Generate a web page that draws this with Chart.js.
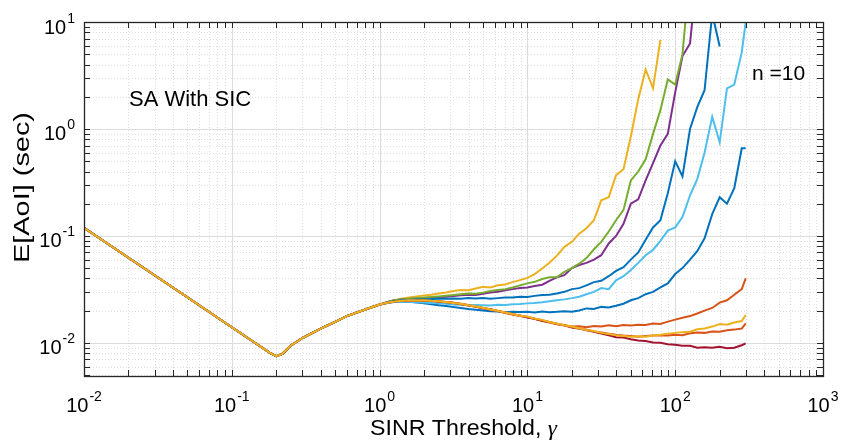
<!DOCTYPE html>
<html>
<head>
<meta charset="utf-8">
<script src="https://cdn.jsdelivr.net/npm/chart.js@4.4.1/dist/chart.umd.min.js"></script>
<style>
  html, body { margin: 0; padding: 0; background: #fff; }
</style>
</head>
<body>
<canvas id="aoiChart" width="842" height="447"></canvas>
<script>
// SINR threshold below 1: every curve is the same here
const gammaLow = [0.01, 0.02, 0.05, 0.1, 0.15, 0.18, 0.2, 0.22, 0.25, 0.3, 0.4, 0.5, 0.6, 0.8];
const aoiLow = [0.119, 0.0625, 0.0267, 0.0140, 0.0096, 0.0081, 0.0075, 0.0079, 0.0094, 0.0111, 0.0136, 0.0157, 0.0178, 0.0205];

// SINR threshold from 1 to 300
const gamma = [1.00, 1.12, 1.26, 1.41, 1.58, 1.78, 2.00, 2.24, 2.51, 2.82,
  3.16, 3.55, 3.98, 4.47, 5.01, 5.62, 6.31, 7.08, 7.94, 8.91,
  10.0, 11.2, 12.6, 14.1, 15.8, 17.8, 20.0, 22.4, 25.1, 28.2,
  31.6, 35.5, 39.8, 44.7, 50.1, 56.2, 63.1, 70.8, 79.4, 89.1,
  100, 112, 126, 141, 158, 178, 200, 224, 251, 282, 300];

// E[AoI] for each curve (MATLAB colour order)
const aoiBlueLow = [.0228, .0236, .0242, .0244, .0242, .0238, .0234, .0229, .0225, .0221,
  .0216, .0212, .0207, .0204, .0201, .0198, .0196, .0193, .0195, .0194,
  .0195, .0192, .0196, .0193, .0195, .0198, .0195, .0201, .0210, .0207,
  .0217, .0214, .0222, .0232, .0250, .0262, .0285, .0300, .0330, .0360,
  .0440, .0500, .0600, .0720, .0950, .1600, .2300, .2000, .2800, .6600, .6600];
const aoiOrangeHigh = [.0228, .0236, .0243, .0247, .0249, .0250, .0249, .0247, .0244, .0241,
  .0237, .0232, .0226, .0219, .0212, .0206, .0199, .0192, .0185, .0180,
  .0174, .0168, .0160, .0155, .0150, .0146, .0142, .0143, .0140, .0144,
  .0142, .0146, .0143, .0147, .0145, .0148, .0147, .0152, .0150, .0158,
  .0165, .0172, .0178, .0188, .0200, .0212, .0238, .0250, .0282, .0318, .0400];
const aoiYellowHigh = [.0228, .0240, .0250, .0258, .0265, .0272, .0278, .0282, .0290, .0296,
  .0305, .0312, .0310, .0322, .0334, .0330, .0345, .0352, .0370, .0386,
  .0405, .0440, .0495, .0560, .0650, .0790, .0880, .1050, .1180, .1400,
  .2150, .2300, .3700, .4200, .8500, 1.90, 3.60, 2.40, 6.80];
const aoiPurple = [.0228, .0240, .0250, .0255, .0257, .0260, .0262, .0265, .0268, .0270,
  .0274, .0278, .0282, .0280, .0288, .0296, .0300, .0310, .0318, .0325,
  .0330, .0340, .0350, .0380, .0410, .0430, .0500, .0535, .0560, .0600,
  .0660, .0850, .1000, .1300, .2000, .2200, .3300, .4800, .7000, .9000,
  2.20, 4.80, 6.30, 30];
const aoiGreen = [.0228, .0240, .0250, .0255, .0258, .0262, .0265, .0268, .0272, .0276,
  .0280, .0285, .0290, .0288, .0295, .0305, .0312, .0318, .0330, .0345,
  .0360, .0372, .0395, .0410, .0410, .0460, .0500, .0550, .0620, .0750,
  .0880, .1100, .1400, .1750, .3300, .4000, .5200, .9000, 1.50, 2.90,
  2.60, 5.00, 30];
const aoiLightBlue = [.0228, .0236, .0241, .0243, .0242, .0240, .0238, .0236, .0234, .0232,
  .0229, .0227, .0225, .0226, .0225, .0223, .0227, .0226, .0230, .0231,
  .0234, .0236, .0240, .0245, .0250, .0255, .0262, .0270, .0285, .0300,
  .0325, .0318, .0385, .0420, .0480, .0560, .0660, .0740, .0900, .1120,
  .1200, .1500, .2400, .3400, .6000, 1.30, .7500, 2.40, 2.60, 5.20, 10.0];
const aoiDarkRed = [.0228, .0237, .0243, .0247, .0249, .0250, .0248, .0247, .0243, .0241,
  .0236, .0231, .0224, .0219, .0211, .0206, .0198, .0191, .0185, .0179,
  .0173, .0168, .0161, .0157, .0150, .0146, .0139, .0136, .0131, .0127,
  .0122, .0118, .0113, .0112, .0108, .0105, .0104, .0101, .0100, .0097,
  .0096, .0094, .0094, .0090, .0091, .0090, .0092, .0089, .0090, .0095, .0099];
const aoiBlueHigh = [.0228, .0238, .0245, .0250, .0252, .0254, .0255, .0257, .0258, .0259,
  .0260, .0258, .0262, .0260, .0262, .0258, .0262, .0265, .0266, .0270,
  .0268, .0275, .0280, .0282, .0290, .0300, .0318, .0325, .0345, .0370,
  .0380, .0420, .0470, .0510, .0600, .0700, .0920, .1200, .1400, .2500,
  .5000, .3600, 1.00, 1.60, 2.30, 12.0, 5.90];
const aoiOrangeLow = [.0228, .0236, .0244, .0246, .0248, .0249, .0249, .0246, .0244, .0240,
  .0237, .0230, .0225, .0218, .0212, .0204, .0199, .0190, .0184, .0178,
  .0175, .0168, .0163, .0156, .0151, .0145, .0141, .0136, .0133, .0128,
  .0125, .0122, .0119, .0117, .0116, .0114, .0116, .0117, .0118, .0117,
  .0119, .0118, .0123, .0125, .0124, .0128, .0127, .0131, .0133, .0136, .0152];
const aoiYellowLow = [.0228, .0237, .0243, .0247, .0250, .0249, .0250, .0247, .0245, .0241,
  .0236, .0232, .0225, .0220, .0213, .0205, .0200, .0192, .0186, .0179,
  .0176, .0169, .0164, .0157, .0152, .0146, .0142, .0137, .0132, .0129,
  .0124, .0121, .0118, .0116, .0114, .0115, .0114, .0117, .0119, .0122,
  .0124, .0126, .0127, .0134, .0136, .0142, .0150, .0148, .0155, .0160, .0182];

const xTickExp = [-2, -1, 0, 1, 2, 3];
const yTickExp = [-2, -1, 0, 1];

const FONT = '"Liberation Sans", Arial, Helvetica, sans-serif';

function series(vals) {
  const low = gammaLow.map((g, i) => ({ x: g, y: aoiLow[i] }));
  return low.concat(vals.map((v, i) => ({ x: gamma[i], y: v })));
}

const curves = [
  { data: aoiBlueLow, color: '#0072BD' },
  { data: aoiOrangeHigh, color: '#D95319' },
  { data: aoiYellowHigh, color: '#EDB120' },
  { data: aoiPurple, color: '#7E2F8E' },
  { data: aoiGreen, color: '#77AC30' },
  { data: aoiLightBlue, color: '#4DBEEE' },
  { data: aoiDarkRed, color: '#A2142F' },
  { data: aoiBlueHigh, color: '#0072BD' },
  { data: aoiOrangeLow, color: '#D95319' },
  { data: aoiYellowLow, color: '#EDB120' }
];

// minor tick values 2..9 per decade inside the axis range
function minorTicks(min, max) {
  const out = [];
  for (let e = Math.floor(Math.log10(min)); e < Math.ceil(Math.log10(max)); e++) {
    for (let m = 2; m <= 9; m++) {
      const v = m * Math.pow(10, e);
      if (v > min && v < max) out.push(v);
    }
  }
  return out;
}

function drawPow(ctx, exp, x, y, mode) {
  // "10" with a raised exponent; mode 'center' for x axis, 'right' for y axis
  ctx.font = '20px ' + FONT;
  const wBase = ctx.measureText('10').width;
  ctx.font = '14px ' + FONT;
  const expText = String(exp);
  const wExp = ctx.measureText(expText).width;
  const total = wBase + 1 + wExp;
  const left = mode === 'center' ? x - total / 2 : x - total;
  ctx.textAlign = 'left';
  ctx.textBaseline = 'alphabetic';
  ctx.font = '20px ' + FONT;
  ctx.fillText('10', left, y);
  ctx.font = '14px ' + FONT;
  ctx.fillText(expText, left + wBase + 1, y - 11);
}

const matlabAxes = {
  id: 'matlabAxes',
  beforeDatasetsDraw(chart) {
    const { ctx, chartArea: a, scales: { x, y } } = chart;
    ctx.save();
    ctx.lineWidth = 1;
    ctx.strokeStyle = '#dedede';
    ctx.setLineDash([1, 2]);
    minorTicks(x.min, x.max).forEach(v => {
      const p = Math.round(x.getPixelForValue(v)) + 0.5;
      ctx.beginPath(); ctx.moveTo(p, a.top); ctx.lineTo(p, a.bottom); ctx.stroke();
    });
    minorTicks(y.min, y.max).forEach(v => {
      const p = Math.round(y.getPixelForValue(v)) + 0.5;
      ctx.beginPath(); ctx.moveTo(a.left, p); ctx.lineTo(a.right, p); ctx.stroke();
    });
    ctx.setLineDash([]);
    ctx.strokeStyle = '#dcdcdc';
    xTickExp.forEach(e => {
      const p = Math.round(x.getPixelForValue(Math.pow(10, e))) + 0.5;
      ctx.beginPath(); ctx.moveTo(p, a.top); ctx.lineTo(p, a.bottom); ctx.stroke();
    });
    yTickExp.forEach(e => {
      const p = Math.round(y.getPixelForValue(Math.pow(10, e))) + 0.5;
      ctx.beginPath(); ctx.moveTo(a.left, p); ctx.lineTo(a.right, p); ctx.stroke();
    });
    ctx.restore();
  },
  afterDatasetsDraw(chart) {
    const { ctx, chartArea: a, scales: { x, y } } = chart;
    ctx.save();
    ctx.strokeStyle = '#262626';
    ctx.fillStyle = '#000';
    ctx.lineWidth = 1.3;
    ctx.strokeRect(Math.round(a.left) + 0.5, Math.round(a.top) + 0.5,
      Math.round(a.right - a.left), Math.round(a.bottom - a.top));

    // inward ticks on all four sides
    const tick = 6;
    ctx.lineWidth = 1;
    const xAll = minorTicks(x.min, x.max).concat(xTickExp.map(e => Math.pow(10, e)));
    xAll.forEach(v => {
      const p = Math.round(x.getPixelForValue(v)) + 0.5;
      ctx.beginPath();
      ctx.moveTo(p, a.bottom); ctx.lineTo(p, a.bottom - tick);
      ctx.moveTo(p, a.top); ctx.lineTo(p, a.top + tick);
      ctx.stroke();
    });
    const yAll = minorTicks(y.min, y.max).concat(yTickExp.map(e => Math.pow(10, e)));
    yAll.forEach(v => {
      const p = Math.round(y.getPixelForValue(v)) + 0.5;
      ctx.beginPath();
      ctx.moveTo(a.left, p); ctx.lineTo(a.left + tick, p);
      ctx.moveTo(a.right, p); ctx.lineTo(a.right - tick, p);
      ctx.stroke();
    });

    // tick labels
    ctx.fillStyle = '#000';
    xTickExp.forEach(e => drawPow(ctx, e, x.getPixelForValue(Math.pow(10, e)), 412, 'center'));
    yTickExp.forEach(e => drawPow(ctx, e, 75, y.getPixelForValue(Math.pow(10, e)) + 11.5, 'right'));

    // x axis title
    ctx.textBaseline = 'alphabetic';
    ctx.textAlign = 'left';
    ctx.font = '22px ' + FONT;
    const t1 = 'SINR Threshold, ';
    const w1 = ctx.measureText(t1).width;
    ctx.font = 'italic 22px "Liberation Serif", "DejaVu Serif", serif';
    const w2 = ctx.measureText('\u03B3').width;
    const sx = 187 / (w1 + w2);
    ctx.save();
    ctx.translate(463.5 - 187 / 2, 435);
    ctx.scale(sx, 1);
    ctx.font = '22px ' + FONT;
    ctx.fillText(t1, 0, 0);
    ctx.font = 'italic 22px "Liberation Serif", "DejaVu Serif", serif';
    ctx.fillText('\u03B3', w1, 0);
    ctx.restore();

    // y axis title
    ctx.save();
    ctx.translate(22.5, 187.5);
    ctx.rotate(-Math.PI / 2);
    ctx.font = '22px ' + FONT;
    ctx.textAlign = 'center';
    ctx.textBaseline = 'middle';
    const yt = 'E[AoI] (sec)';
    const sy = 151 / ctx.measureText(yt).width;
    ctx.scale(sy, 1);
    ctx.fillText(yt, 0, 0);
    ctx.restore();

    // annotations
    ctx.textAlign = 'left';
    ctx.textBaseline = 'alphabetic';
    ctx.font = '22px ' + FONT;
    ctx.fillText('SA With SIC', 129, 106);
    ctx.font = '21px ' + FONT;
    ctx.fillText('n =10', 752, 80);
    ctx.restore();
  }
};

const ctx = document.getElementById('aoiChart').getContext('2d');
new Chart(ctx, {
  type: 'line',
  data: {
    datasets: curves.map((c, i) => ({
      label: 'curve ' + (i + 1),
      data: series(c.data),
      borderColor: c.color,
      backgroundColor: c.color,
      borderWidth: 2,
      pointRadius: 0,
      tension: 0,
      fill: false,
      clip: 0,
      order: curves.length - i   // later curves drawn on top, like MATLAB
    }))
  },
  options: {
    responsive: false,
    animation: false,
    events: [],
    layout: { padding: { left: 84, top: 22, right: 19, bottom: 71 } },
    plugins: { legend: { display: false }, tooltip: { enabled: false } },
    scales: {
      x: { type: 'logarithmic', min: 0.01, max: 1000, display: false },
      y: { type: 'logarithmic', min: 0.0049, max: 10, display: false }
    }
  },
  plugins: [matlabAxes]
});
</script>
</body>
</html>
